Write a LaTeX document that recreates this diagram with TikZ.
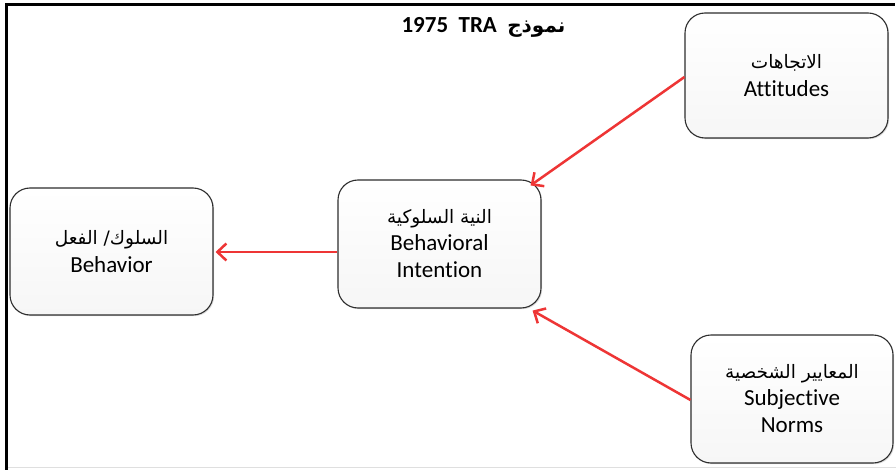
\documentclass[tikz,border=0pt]{standalone}
\usepackage{fontspec}
\setmainfont{Carlito}[Ligatures={NoCommon}]
\newfontfamily\arabicfont[Script=Arabic]{DejaVu Sans}
\TeXXeTstate=1
\usetikzlibrary{arrows.meta,shadows,calc}
\definecolor{arrred}{HTML}{EE3535}
\definecolor{boxline}{HTML}{2E2E2E}
\tikzset{
  box/.style={draw=boxline, line width=1.1pt, rounded corners=20pt,
    top color=white, bottom color=gray!7, align=center,
    drop shadow={opacity=0.25, shadow xshift=1.2pt, shadow yshift=-1.2pt},
    inner sep=0pt, font=\fontsize{23}{27}\selectfont},
  redarrow/.style={draw=arrred, line width=2.5pt, -{Straight Barb[length=9pt,width=17pt,line width=2.5pt]}}
}
\newcommand{\AR}[1]{{\arabicfont\fontsize{18.5}{22}\selectfont\beginR #1\endR}}
\begin{document}
\begin{tikzpicture}[x=1pt,y=-1pt]
\useasboundingbox (0,0) rectangle (896,470);
\fill[white] (0,0) rectangle (896,470);
% frame
\draw[line width=3pt] (6,470) -- (6,5) -- (895,5);
\draw[gray!25, line width=1pt] (8,467.5) -- (896,467.5);
% title
\node (title) at (483.5,27) {\bfseries\fontsize{23}{26}\selectfont 1975\ \ TRA\ \ {\arabicfont\bfseries\fontsize{20}{24}\selectfont\beginR نموذج\endR}};
% boxes
\node[box, minimum width=203pt, minimum height=125pt] (att) at (786.5,75.5)
  {\AR{الاتجاهات}\\[1pt]Attitudes};
\node[box, minimum width=203pt, minimum height=128pt] (bi) at (439.5,244)
  {\AR{النية السلوكية}\\Behavioral\\Intention};
\node[box, minimum width=203pt, minimum height=127pt] (beh) at (111.5,251.5)
  {\AR{السلوك/ الفعل}\\[1pt]Behavior};
\node[box, minimum width=202pt, minimum height=128pt] (sn) at (792,399)
  {\AR{المعايير الشخصية}\\Subjective\\Norms};
% arrows
\coordinate (biTR) at ($(bi.north east)+(-11,6)$);
\coordinate (biBR) at ($(bi.south east)+(-9,2)$);
\draw[redarrow] ($(att.west)+(0,1.5)$) -- (biTR);
\draw[redarrow] ($(sn.west)+(0,1)$) -- (biBR);
\draw[redarrow] ($(bi.west)+(0,8)$) -- ($(beh.east)+(2,0.5)$);
\end{tikzpicture}
\end{document}
